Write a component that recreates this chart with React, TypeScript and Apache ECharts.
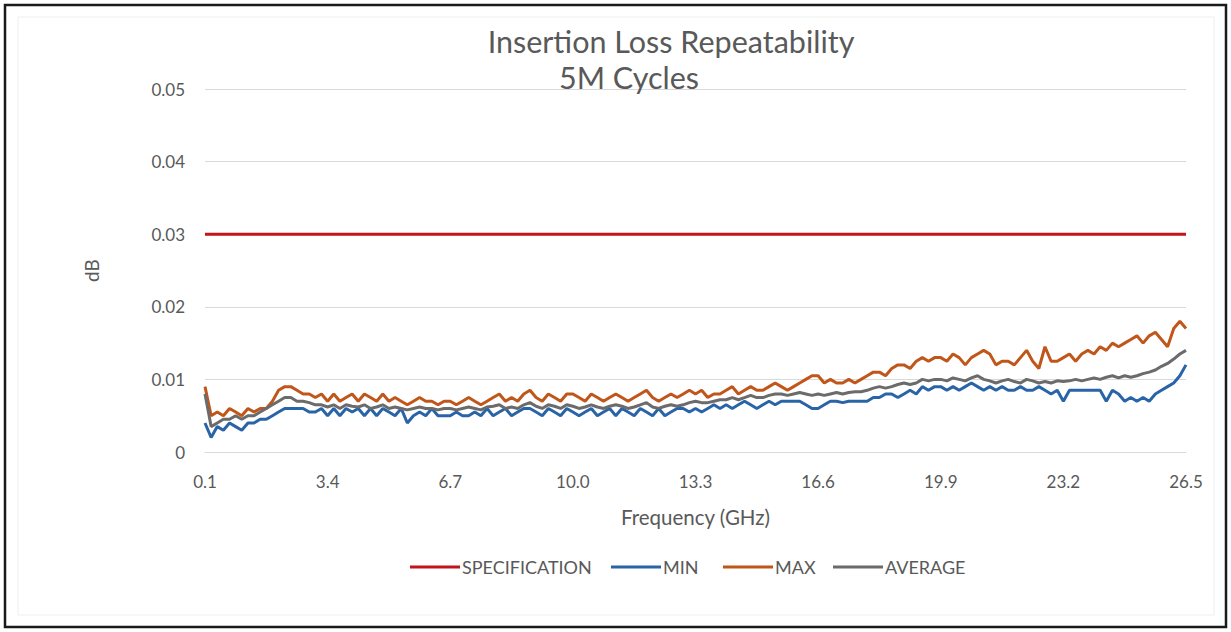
import React, { useEffect, useRef } from "react";
import * as echarts from "echarts";

// Frequency sweep: 0.1 GHz to 26.5 GHz, 161 points (linear VNA sweep)
const F_START = 0.1;
const F_STOP = 26.5;
const N_POINTS = 161;
const frequencies: string[] = Array.from({ length: N_POINTS }, (_, i) =>
  (F_START + ((F_STOP - F_START) * i) / (N_POINTS - 1)).toFixed(3)
);
const tickLabels = ["0.1", "3.4", "6.7", "10.0", "13.3", "16.6", "19.9", "23.2", "26.5"];

const SPEC_LIMIT = 0.03;
const yTicks = [0, 0.01, 0.02, 0.03, 0.04, 0.05];
const seriesNames = ["SPECIFICATION", "MIN", "MAX", "AVERAGE"];

const minValues = [
  0.004, 0.002, 0.0035, 0.003, 0.004, 0.0035, 0.003, 0.004, 0.004, 0.0045,
  0.0045, 0.005, 0.0055, 0.006, 0.006, 0.006, 0.006, 0.0055, 0.0055, 0.006,
  0.005, 0.006, 0.005, 0.006, 0.0055, 0.006, 0.005, 0.006, 0.005, 0.006,
  0.0055, 0.005, 0.006, 0.004, 0.005, 0.0055, 0.005, 0.006, 0.005, 0.005,
  0.005, 0.0055, 0.005, 0.005, 0.0055, 0.005, 0.006, 0.005, 0.0055, 0.006,
  0.005, 0.0055, 0.006, 0.006, 0.0055, 0.005, 0.006, 0.0055, 0.005, 0.006,
  0.0055, 0.005, 0.0055, 0.006, 0.005, 0.0055, 0.006, 0.005, 0.006, 0.0055,
  0.005, 0.006, 0.0055, 0.005, 0.006, 0.005, 0.0055, 0.006, 0.006, 0.0055,
  0.006, 0.0055, 0.006, 0.0065, 0.006, 0.0065, 0.006, 0.0065, 0.007, 0.0065,
  0.006, 0.0065, 0.007, 0.0065, 0.007, 0.007, 0.007, 0.007, 0.0065, 0.006,
  0.006, 0.0065, 0.007, 0.007, 0.0068, 0.007, 0.007, 0.007, 0.007, 0.0075,
  0.0075, 0.008, 0.008, 0.0075, 0.008, 0.0085, 0.008, 0.009, 0.0085, 0.009,
  0.009, 0.0085, 0.009, 0.0085, 0.009, 0.0095, 0.009, 0.0085, 0.009, 0.0085,
  0.009, 0.0085, 0.0085, 0.009, 0.0085, 0.0085, 0.009, 0.0085, 0.008, 0.0085,
  0.007, 0.0085, 0.0085, 0.0085, 0.0085, 0.0085, 0.0085, 0.007, 0.0085, 0.008,
  0.007, 0.0075, 0.007, 0.0075, 0.007, 0.008, 0.0085, 0.009, 0.0095, 0.0105,
  0.012,
];

const maxValues = [
  0.009, 0.005, 0.0055, 0.005, 0.006, 0.0055, 0.005, 0.006, 0.0055, 0.006,
  0.006, 0.007, 0.0085, 0.009, 0.009, 0.0085, 0.008, 0.008, 0.0075, 0.008,
  0.007, 0.008, 0.007, 0.0075, 0.008, 0.007, 0.008, 0.0075, 0.007, 0.008,
  0.007, 0.0075, 0.007, 0.0065, 0.007, 0.0075, 0.007, 0.007, 0.0065, 0.007,
  0.007, 0.0065, 0.007, 0.0075, 0.007, 0.0065, 0.007, 0.0075, 0.008, 0.007,
  0.0075, 0.007, 0.008, 0.0085, 0.0075, 0.007, 0.008, 0.0075, 0.007, 0.008,
  0.008, 0.0075, 0.007, 0.008, 0.0075, 0.007, 0.0075, 0.008, 0.0075, 0.007,
  0.0075, 0.008, 0.0085, 0.0075, 0.007, 0.0075, 0.008, 0.0075, 0.008, 0.0085,
  0.008, 0.0085, 0.0075, 0.008, 0.008, 0.0085, 0.009, 0.008, 0.0085, 0.009,
  0.0085, 0.0085, 0.009, 0.0095, 0.009, 0.0085, 0.009, 0.0095, 0.01, 0.0105,
  0.0105, 0.0095, 0.01, 0.0095, 0.0095, 0.01, 0.0095, 0.01, 0.0105, 0.011,
  0.011, 0.0105, 0.0115, 0.012, 0.012, 0.0115, 0.0125, 0.013, 0.0125, 0.013,
  0.013, 0.0125, 0.0135, 0.013, 0.012, 0.013, 0.0135, 0.014, 0.0135, 0.012,
  0.0125, 0.0125, 0.012, 0.013, 0.014, 0.0125, 0.0115, 0.0145, 0.0125, 0.0125,
  0.013, 0.0135, 0.0125, 0.0135, 0.014, 0.0135, 0.0145, 0.014, 0.015, 0.0145,
  0.015, 0.0155, 0.016, 0.015, 0.016, 0.0165, 0.0155, 0.0145, 0.017, 0.018,
  0.017,
];

const avgValues = [
  0.008, 0.0035, 0.004, 0.0045, 0.0045, 0.005, 0.0045, 0.005, 0.005, 0.0055,
  0.006, 0.0065, 0.007, 0.0075, 0.0075, 0.007, 0.007, 0.0068, 0.0065, 0.0065,
  0.0062, 0.0065, 0.006, 0.0065, 0.0063, 0.0062, 0.0065, 0.006, 0.0062, 0.0065,
  0.006, 0.0062, 0.006, 0.0058, 0.006, 0.0062, 0.006, 0.006, 0.0058, 0.006,
  0.006, 0.0058, 0.006, 0.0062, 0.006, 0.0058, 0.0062, 0.0063, 0.0065, 0.006,
  0.0062, 0.006, 0.0065, 0.0068, 0.0063, 0.006, 0.0065, 0.0063, 0.006, 0.0065,
  0.0063, 0.006, 0.0062, 0.0065, 0.0062, 0.006, 0.0063, 0.0065, 0.0063, 0.006,
  0.0062, 0.0065, 0.0068, 0.0062, 0.006, 0.0063, 0.0065, 0.0063, 0.0065, 0.0068,
  0.007, 0.0068, 0.0068, 0.007, 0.0072, 0.0072, 0.0075, 0.0072, 0.0075, 0.0078,
  0.0075, 0.0075, 0.0078, 0.008, 0.008, 0.0078, 0.008, 0.0082, 0.008, 0.0078,
  0.008, 0.0078, 0.008, 0.0082, 0.008, 0.0082, 0.0083, 0.0083, 0.0085, 0.0088,
  0.009, 0.0088, 0.009, 0.0093, 0.0095, 0.0093, 0.0095, 0.01, 0.0098, 0.01,
  0.01, 0.0098, 0.0102, 0.01, 0.0098, 0.0102, 0.0105, 0.01, 0.0098, 0.0095,
  0.0098, 0.01, 0.0097, 0.0095, 0.01, 0.0098, 0.0095, 0.0097, 0.0095, 0.0098,
  0.0097, 0.0098, 0.01, 0.0098, 0.01, 0.0102, 0.01, 0.0103, 0.0105, 0.0102,
  0.0105, 0.0103, 0.0105, 0.0108, 0.011, 0.0113, 0.0118, 0.0122, 0.0128, 0.0135,
  0.014,
];

const specValues = frequencies.map(() => SPEC_LIMIT);

const FONT = "Lato, 'Open Sans', sans-serif";
const TEXT_COLOR = "#595959";
const legendLefts = [405, 606, 718, 828];

export default function App() {
  const ref = useRef<HTMLDivElement>(null);
  useEffect(() => {
    document.body.style.margin = "0";
    if (!ref.current) return;
    const chart = echarts.init(ref.current, undefined, { renderer: "svg" });
    const tickIndex = new Set(
      tickLabels.map((t) => frequencies.findIndex((f) => Math.abs(parseFloat(f) - parseFloat(t)) < 1e-6))
    );
    chart.setOption({
      animation: false,
      backgroundColor: "#ffffff",
      textStyle: { fontFamily: FONT },
      title: [
        {
          text: "Insertion Loss Repeatability",
          left: 666,
          textAlign: "center",
          top: 20,
          textStyle: { fontFamily: FONT, fontSize: 30.5, fontWeight: "normal", color: TEXT_COLOR },
        },
        {
          text: "5M Cycles",
          left: 624,
          textAlign: "center",
          top: 56,
          textStyle: { fontFamily: FONT, fontSize: 30.5, fontWeight: "normal", color: TEXT_COLOR },
        },
      ],
      graphic: [
        {
          type: "rect",
          shape: { x: 5, y: 5, width: 1221, height: 622 },
          style: { fill: "none", stroke: "#1a1a1a", lineWidth: 2.5 },
          silent: true,
        },
        {
          type: "rect",
          shape: { x: 18, y: 17, width: 1196, height: 598 },
          style: { fill: "none", stroke: "#eeeeee", lineWidth: 1 },
          silent: true,
        },
      ],
      legend: seriesNames.map((name, i) => ({
        left: legendLefts[i],
        top: 553,
        itemWidth: 50,
        itemHeight: 3,
        icon: "rect",
        textStyle: { fontFamily: FONT, fontSize: 18, color: TEXT_COLOR, padding: [0, 0, 0, -3] },
        data: [name],
      })),
      grid: { left: 205, right: 45, top: 89, bottom: 180, containLabel: false },
      xAxis: {
        type: "category",
        data: frequencies,
        boundaryGap: false,
        name: "Frequency (GHz)",
        nameLocation: "middle",
        nameGap: 54,
        nameTextStyle: { fontFamily: FONT, fontSize: 20.5, color: TEXT_COLOR },
        axisLine: { show: true, lineStyle: { color: "#d9d9d9", width: 1 } },
        axisTick: { show: false },
        axisLabel: {
          interval: (idx: number) => tickIndex.has(idx),
          margin: 21,
          fontFamily: FONT,
          fontSize: 17,
          color: TEXT_COLOR,
          formatter: (v: string) => {
            const t = tickLabels.find((l) => Math.abs(parseFloat(l) - parseFloat(v)) < 1e-6);
            return t ?? "";
          },
        },
        splitLine: { show: false },
      },
      yAxis: {
        type: "value",
        min: 0,
        max: 0.05,
        interval: 0.01,
        name: "dB",
        nameLocation: "middle",
        nameGap: 104,
        nameRotate: 90,
        nameTextStyle: { fontFamily: FONT, fontSize: 19, color: TEXT_COLOR },
        axisLine: { show: false },
        axisTick: { show: false },
        axisLabel: {
          margin: 20,
          fontFamily: FONT,
          fontSize: 17,
          color: TEXT_COLOR,
          formatter: (v: number) => {
            const t = yTicks.find((y) => Math.abs(y - v) < 1e-9);
            return t === undefined ? "" : String(t);
          },
        },
        splitLine: { show: true, lineStyle: { color: "#d9d9d9", width: 1 } },
      },
      series: [
        {
          name: "SPECIFICATION",
          type: "line",
          data: specValues,
          showSymbol: false,
          symbol: "none",
          lineStyle: { color: "#c0151b", width: 3 },
          itemStyle: { color: "#c0151b" },
        },
        {
          name: "MIN",
          type: "line",
          data: minValues,
          showSymbol: false,
          symbol: "none",
          lineStyle: { color: "#2a64a8", width: 3 },
          itemStyle: { color: "#2a64a8" },
        },
        {
          name: "MAX",
          type: "line",
          data: maxValues,
          showSymbol: false,
          symbol: "none",
          lineStyle: { color: "#c0561a", width: 3 },
          itemStyle: { color: "#c0561a" },
        },
        {
          name: "AVERAGE",
          type: "line",
          data: avgValues,
          showSymbol: false,
          symbol: "none",
          lineStyle: { color: "#6b6b6b", width: 3 },
          itemStyle: { color: "#6b6b6b" },
        },
      ],
    });
    return () => chart.dispose();
  }, []);
  return <div ref={ref} style={{ width: 1231, height: 632 }} />;
}
